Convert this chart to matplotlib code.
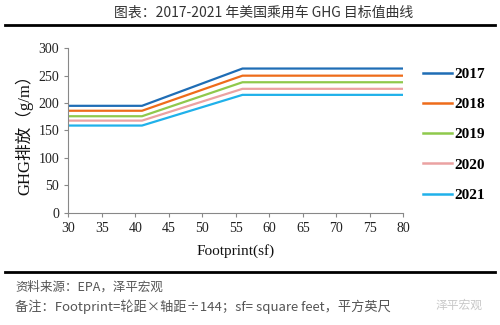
import matplotlib
matplotlib.use("Agg")
import matplotlib.pyplot as plt
from matplotlib.lines import Line2D

plt.rcParams['font.family'] = ['Liberation Serif', 'Noto Sans CJK SC', 'DejaVu Sans']

years = ["2017", "2018", "2019", "2020", "2021"]
footprint = [30, 41, 56, 80]
targets = {
    "2017": [195, 195, 263, 263],
    "2018": [186, 186, 250, 250],
    "2019": [176, 176, 238, 238],
    "2020": [168, 168, 226, 226],
    "2021": [159, 159, 215, 215],
}
colors = ["#1f6db5", "#ee6c1a", "#8fc94c", "#eba2a2", "#20b1ea"]
xticks = [30, 35, 40, 45, 50, 55, 60, 65, 70, 75, 80]
yticks = [0, 50, 100, 150, 200, 250, 300]

fig = plt.figure(figsize=(5, 3.25), dpi=100)
ax = fig.add_axes([0.1366, 0.3455, 0.67, 0.506])

for y, c in zip(years, colors):
    ax.plot(footprint, targets[y], color=c, lw=1.6, solid_joinstyle='miter')

ax.set_xlim(30, 80)
ax.set_ylim(0, 300)
ax.set_xticks(xticks)
ax.set_yticks(yticks)
for s in ["top", "right"]:
    ax.spines[s].set_visible(False)
for s in ["left", "bottom"]:
    ax.spines[s].set_color("#888888")
    ax.spines[s].set_linewidth(0.8)
ax.tick_params(axis='both', colors="#888888", labelcolor="#222222", labelsize=10, length=3, width=0.8)
ax.tick_params(axis='x', pad=4)
ax.set_xlabel("Footprint(sf)", fontsize=11, color="#111111", labelpad=6)
ax.set_ylabel("GHG排放（g/m）", fontsize=12, color="#111111", labelpad=4)

handles = [Line2D([0], [0], color=c, lw=1.8) for c in colors]
leg = fig.legend(handles, years, loc='upper left', bbox_to_anchor=(0.818, 0.835),
                 frameon=False, handlelength=1.9, handletextpad=0.15,
                 labelspacing=1.08, prop={'family': 'Liberation Serif', 'weight': 'bold', 'size': 11})

# header and footer
cjk = ['Noto Sans CJK SC', 'DejaVu Sans']
fig.text(0.528, 0.962, "图表：2017-2021 年美国乘用车 GHG 目标值曲线", ha='center', va='center',
         fontsize=10, color="#333333", family=cjk)
fig.add_artist(Line2D([0.01, 0.99], [0.922, 0.922], color="black", lw=2, transform=fig.transFigure))
fig.add_artist(Line2D([0.01, 0.99], [0.162, 0.162], color="black", lw=2, transform=fig.transFigure))
fig.text(0.03, 0.117, "资料来源：EPA，泽平宏观", ha='left', va='center', fontsize=9,
         color="#555555", style='italic', family=cjk)
fig.text(0.03, 0.055, "备注：Footprint=轮距×轴距÷144；sf= square feet，平方英尺", ha='left', va='center',
         fontsize=9.5, color="#555555", style='italic', family=cjk)
fig.text(0.87, 0.062, "泽平宏观", ha='left', va='center', fontsize=8.5, color="#c8c8c8",
         family=cjk)

fig.savefig("out.png", dpi=100)
